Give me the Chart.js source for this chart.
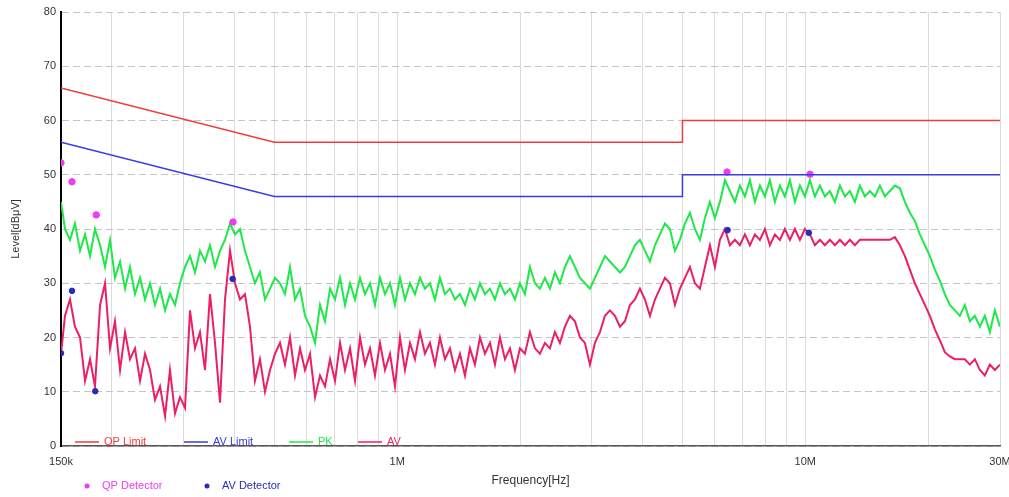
<!DOCTYPE html>
<html>
<head>
<meta charset="utf-8">
<script src="https://cdn.jsdelivr.net/npm/chart.js@4/dist/chart.umd.min.js"></script>
<style>
	html, body { margin: 0; padding: 0; background: #fff; }
	#wrap { width: 1009px; height: 497px; }
</style>
</head>
<body>
<div id="wrap"><canvas id="emiChart" width="1009" height="497"></canvas></div>
<script>
// Frequency grid of the scan traces, in MHz
const freqMHz = [
	0.150, 0.1534, 0.1578, 0.1623, 0.1670, 0.1718, 0.1767, 0.1817, 0.1870, 0.1923,
	0.1978, 0.2034, 0.2093, 0.2153, 0.2214, 0.2277, 0.2343, 0.2410, 0.2479, 0.2549,
	0.2623, 0.2698, 0.2774, 0.2854, 0.2935, 0.3020, 0.3106, 0.3195, 0.3286, 0.3381,
	0.3477, 0.3577, 0.3679, 0.3784, 0.3893, 0.4004, 0.4118, 0.4236, 0.4357, 0.4481,
	0.4609, 0.4742, 0.4879, 0.5017, 0.5161, 0.5309, 0.5462, 0.5617, 0.5779, 0.5943,
	0.6114, 0.6289, 0.6469, 0.6653, 0.6845, 0.7040, 0.7242, 0.7448, 0.7662, 0.7881,
	0.8107, 0.8337, 0.8577, 0.8821, 0.9075, 0.9333, 0.9601, 0.9874, 1.0158, 1.0447,
	1.0747, 1.1053, 1.1371, 1.1695, 1.2030, 1.2373, 1.2728, 1.3091, 1.3467, 1.3851,
	1.4248, 1.4655, 1.5075, 1.5505, 1.5950, 1.6406, 1.6876, 1.7357, 1.7855, 1.8365,
	1.8890, 1.9429, 1.9986, 2.0557, 2.1146, 2.1749, 2.2373, 2.3012, 2.3672, 2.4347,
	2.5045, 2.5763, 2.6498, 2.7256, 2.8038, 2.8840, 2.9667, 3.0513, 3.1388, 3.2285,
	3.3210, 3.4158, 3.5138, 3.6141, 3.7177, 3.8238, 3.9335, 4.0458, 4.1618, 4.2806,
	4.4034, 4.5290, 4.6589, 4.7919, 4.9293, 5.0699, 5.2153, 5.3641, 5.5180, 5.6754,
	5.8382, 6.0047, 6.1770, 6.3532, 6.5355, 6.7219, 6.9147, 7.1120, 7.3160, 7.5246,
	7.7405, 7.9612, 8.1897, 8.4232, 8.6649, 8.9125, 9.1681, 9.4297, 9.7006, 9.9770,
	10.263, 10.556, 10.859, 11.169, 11.489, 11.817, 12.156, 12.503, 12.862, 13.229,
	13.608, 13.996, 14.398, 14.808, 15.234, 15.668, 16.117, 16.577, 17.053, 17.539,
	18.042, 18.557, 19.089, 19.634, 20.197, 20.773, 21.368, 21.979, 22.609, 23.254,
	23.921, 24.604, 25.310, 26.032, 26.779, 27.542, 28.332, 29.141, 30.0
];

// Peak scan (green), dBuV
const pkLevel = [
	45, 40, 38, 41, 36, 39, 35, 40, 37, 33,
	38, 31, 34, 29, 33, 28, 31, 27, 30, 26,
	29, 25, 28, 26, 30, 33, 35, 32, 36, 34,
	37, 33, 36, 38, 41, 39, 40, 36, 33, 30,
	32, 27, 29, 31, 30, 28, 33, 27, 29, 24,
	22, 19, 26, 23, 29, 27, 31, 26, 30, 27,
	31, 28, 30, 26, 31, 28, 30, 26, 31, 27,
	30, 28, 31, 29, 30, 27, 31, 28, 29, 27,
	28, 26, 29, 27, 30, 28, 29, 27, 30, 28,
	29, 27, 30, 28, 33, 30, 29, 31, 29, 32,
	30, 33, 35, 33, 31, 30, 29, 31, 33, 35,
	34, 33, 32, 33, 35, 37, 38, 36, 34, 37,
	39, 41, 40, 36, 38, 41, 43, 40, 38, 42,
	45, 42, 45, 49, 47, 45, 48, 46, 49, 45,
	48, 46, 49, 45, 48, 46, 49, 45, 48, 46,
	49, 46, 48, 46, 47, 45, 48, 46, 47, 45,
	48, 46, 47, 46, 48, 46, 47, 48, 47.5, 45,
	43, 41.5, 39, 37, 35, 32.5, 30.5, 28, 26, 25,
	24, 26, 23, 24, 22, 24, 21, 25, 22
];

// Average scan (pink), dBuV
const avLevel = [
	17, 24, 27, 22, 20, 12, 16, 11, 26, 30,
	18, 23, 14, 21, 16, 18, 12, 17, 14, 8.5,
	11, 5.5, 14, 6, 9, 7, 25, 18, 21, 14,
	28, 19, 8, 27, 36, 30, 27, 28, 22, 12,
	16, 10, 14, 17, 19, 15, 20, 13, 18, 14,
	17, 9, 13, 11, 16, 12, 19, 14, 18, 12,
	20, 15, 18, 13, 19, 14, 17, 11, 20, 14,
	19, 16, 21, 17, 19, 15, 20, 16, 18, 14,
	17, 13, 18, 15, 20, 17, 19, 15, 20, 16,
	18, 14, 18, 17, 21, 18, 17, 19, 18, 21,
	19, 22, 24, 23, 20, 19, 15, 19, 21, 24,
	25, 24, 22, 23, 26, 27, 29, 27, 24, 27,
	29, 31, 30, 26, 29, 31, 33, 30, 29, 33,
	37, 33, 38, 40, 37, 38, 37, 39, 37, 39,
	38, 40, 37, 39, 38, 40, 38, 40, 38, 40,
	39, 37, 38, 37, 38, 37, 38, 37, 38, 37,
	38, 38, 38, 38, 38, 38, 38, 38.5, 37, 35,
	32.5, 30, 28, 26, 24, 21.5, 19.5, 17.3, 16.5, 16,
	16, 16, 15, 16, 14, 13, 15, 14, 15
];

// Limit lines, corner points
const limitFreq = [0.15, 0.5, 5, 5, 30];
const qpLimit = [66, 56, 56, 60, 60];
const avLimit = [56, 46, 46, 50, 50];

// Final measurement markers
const qpMarkFreq = [0.150, 0.1596, 0.183, 0.396, 6.43, 10.27];
const qpMarkLevel = [52.2, 48.7, 42.6, 41.3, 50.5, 50.1];
const avMarkFreq = [0.150, 0.1596, 0.182, 0.395, 6.45, 10.2];
const avMarkLevel = [17.1, 28.6, 10.1, 30.8, 39.8, 39.3];

// Axis ticks
const xTickValues = [0.15, 0.2, 0.3, 0.4, 0.5, 0.6, 0.7, 0.8, 0.9,
	1, 2, 3, 4, 5, 6, 7, 8, 9, 10, 20, 30];
const xTickLabels = { 0.15: '150k', 1: '1M', 10: '10M', 30: '30M' };

const colors = {
	qpLimit: '#f03c3c',
	avLimit: '#3a3ae6',
	pk: '#1ee84a',
	av: '#ec1f66',
	qpMark: '#f03cf0',
	avMark: '#2a2ab8'
};

const pts = (xs, ys) => xs.map((x, i) => ({ x: x, y: ys[i] }));

// Draws the in-plot line legend and the detector legend under the axis
const emiLegend = {
	id: 'emiLegend',
	afterDraw(chart) {
		const { ctx, chartArea } = chart;
		ctx.save();
		ctx.font = '11px "Liberation Sans", Arial, sans-serif';
		ctx.textBaseline = 'middle';
		const lineY = chartArea.bottom - 4;
		const lineX = [75, 184, 289, 358];
		chart.data.datasets.slice(0, 4).forEach((ds, i) => {
			ctx.strokeStyle = ds.borderColor;
			ctx.lineWidth = 1.5;
			ctx.beginPath();
			ctx.moveTo(lineX[i], lineY);
			ctx.lineTo(lineX[i] + 24, lineY);
			ctx.stroke();
			ctx.fillStyle = ds.borderColor;
			ctx.fillText(ds.label, lineX[i] + 29, lineY);
		});
		const markX = [87, 207];
		const markY = 486;
		chart.data.datasets.slice(4, 6).forEach((ds, i) => {
			ctx.fillStyle = ds.backgroundColor;
			ctx.beginPath();
			ctx.arc(markX[i], markY, 2.5, 0, Math.PI * 2);
			ctx.fill();
			ctx.fillText(ds.label, markX[i] + 15, markY);
		});
		ctx.restore();
	}
};

new Chart(document.getElementById('emiChart'), {
	type: 'line',
	data: {
		datasets: [{
			label: 'QP Limit',
			data: pts(limitFreq, qpLimit),
			borderColor: colors.qpLimit,
			borderWidth: 1.5,
			pointRadius: 0
		}, {
			label: 'AV Limit',
			data: pts(limitFreq, avLimit),
			borderColor: colors.avLimit,
			borderWidth: 1.5,
			pointRadius: 0
		}, {
			label: 'PK',
			data: pts(freqMHz, pkLevel),
			borderColor: colors.pk,
			borderWidth: 2,
			pointRadius: 0,
			order: 2
		}, {
			label: 'AV',
			data: pts(freqMHz, avLevel),
			borderColor: colors.av,
			borderWidth: 2,
			pointRadius: 0,
			order: 1
		}, {
			label: 'QP Detector',
			data: pts(qpMarkFreq, qpMarkLevel),
			showLine: false,
			backgroundColor: colors.qpMark,
			borderColor: colors.qpMark,
			pointRadius: 3.2,
			order: 0
		}, {
			label: 'AV Detector',
			data: pts(avMarkFreq, avMarkLevel),
			showLine: false,
			backgroundColor: colors.avMark,
			borderColor: colors.avMark,
			pointRadius: 2.8,
			order: 0
		}]
	},
	options: {
		responsive: false,
		animation: false,
		layout: { padding: { top: 12, right: 9, left: 0, bottom: 0 } },
		plugins: {
			legend: { display: false },
			tooltip: { enabled: false }
		},
		scales: {
			x: {
				type: 'logarithmic',
				min: 0.15,
				max: 30,
				afterBuildTicks: scale => { scale.ticks = xTickValues.map(v => ({ value: v })); },
				afterFit: scale => {
					scale.height = 51;
					scale.paddingLeft = 0;   // keep plot edges fixed, labels may overhang
					scale.paddingRight = 0;
				},
				grid: { color: '#dcdcdc', drawTicks: false },
				border: { color: '#555', width: 1.5 },
				ticks: {
					autoSkip: false,
					maxRotation: 0,
					padding: 9,
					color: '#333',
					font: { family: '"Liberation Sans", Arial, sans-serif', size: 11 },
					callback: v => xTickLabels[v] || ''
				},
				title: {
					display: true,
					text: 'Frequency[Hz]',
					color: '#333',
					font: { family: '"Liberation Sans", Arial, sans-serif', size: 12 },
					padding: { top: 0, bottom: 9 }
				}
			},
			y: {
				min: 0,
				max: 80,
				afterFit: scale => { scale.width = 61; },
				grid: { color: '#c4c4c4', drawTicks: false },
				border: { color: '#000', width: 2, dash: [7, 4] },
				ticks: {
					stepSize: 10,
					padding: 5,
					color: '#333',
					font: { family: '"Liberation Sans", Arial, sans-serif', size: 11 }
				},
				title: {
					display: true,
					text: 'Level[dBμV]',
					color: '#333',
					font: { family: '"Liberation Sans", Arial, sans-serif', size: 11 },
					padding: { top: 9, bottom: 0 }
				}
			}
		}
	},
	plugins: [emiLegend]
});
</script>
</body>
</html>
